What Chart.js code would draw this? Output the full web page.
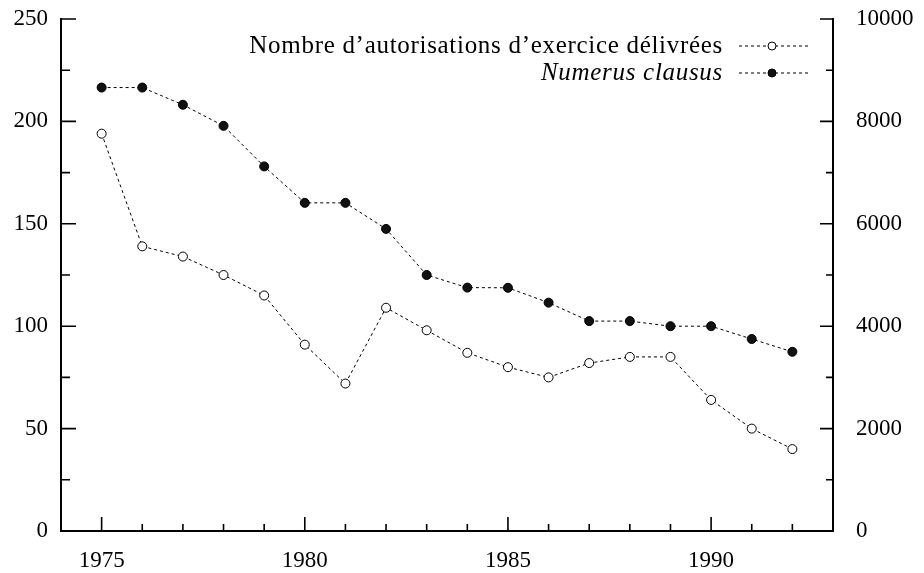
<!DOCTYPE html>
<html>
<head>
<meta charset="utf-8">
<style>
  html, body { margin: 0; padding: 0; background: #fff; }
  #wrap { width: 924px; height: 573px; }
</style>
</head>
<body>
<div id="wrap"><canvas id="chart"></canvas></div>
<script src="https://cdn.jsdelivr.net/npm/chart.js"></script>
<script>
  const years = [1975, 1976, 1977, 1978, 1979, 1980, 1981, 1982, 1983, 1984, 1985, 1986, 1987, 1988, 1989, 1990, 1991, 1992]
  const autorisations = [194, 139, 134, 125, 115, 91, 72, 109, 98, 87, 80, 75, 82, 85, 85, 64, 50, 40]
  const numerusClausus = [8661, 8661, 8325, 7913, 7121, 6409, 6409, 5900, 5000, 4754, 4750, 4460, 4100, 4100, 4000, 4000, 3750, 3500]
  const xTicks = [1975, 1980, 1985, 1990]
  const leftTicks = [0, 50, 100, 150, 200, 250]
  const rightTicks = [0, 2000, 4000, 6000, 8000, 10000]
  const labels = ['Nombre d\u2019autorisations d\u2019exercice délivrées', 'Numerus clausus']

  Chart.defaults.font.family = '"Liberation Serif", serif'
  Chart.defaults.color = '#000'

  // ticks pointing inward + legend on the right
  const frame = {
    id: 'frame',
    afterDraw(chart) {
      const { ctx, chartArea: a, scales } = chart
      ctx.save()
      ctx.strokeStyle = '#000'
      ctx.lineWidth = 1.6
      ctx.beginPath()
      for (let v = 0; v <= 250; v += 25) {
        const y = scales.y.getPixelForValue(v)
        ctx.moveTo(a.left, y); ctx.lineTo(a.left + (v % 50 ? 9 : 15), y)
      }
      for (let v = 0; v <= 10000; v += 1000) {
        const y = scales.y1.getPixelForValue(v)
        ctx.moveTo(a.right, y); ctx.lineTo(a.right - (v % 2000 ? 7 : 13), y)
      }
      for (let v = 1975; v <= 1992; v++) {
        const x = scales.x.getPixelForValue(v)
        ctx.moveTo(x, a.bottom); ctx.lineTo(x, a.bottom - (v % 5 ? 7 : 14))
      }
      ctx.stroke()

      // legend
      const rows = [46, 73]
      chart.data.datasets.forEach((ds, i) => {
        const y = rows[i]
        ctx.font = (i === 1 ? 'italic ' : '') + '25px "Liberation Serif", serif'
        ctx.letterSpacing = '0.7px'
        ctx.fillStyle = '#000'
        ctx.textAlign = 'right'
        ctx.textBaseline = 'middle'
        ctx.fillText(labels[i], 723, y)
        ctx.letterSpacing = '0px'
        ctx.lineWidth = 1
        ctx.setLineDash([3, 3])
        ctx.beginPath(); ctx.moveTo(739, y); ctx.lineTo(808, y); ctx.stroke()
        ctx.setLineDash([])
        ctx.beginPath(); ctx.arc(772, y, 4, 0, Math.PI * 2)
        ctx.fillStyle = ds.pointBackgroundColor
        ctx.fill(); ctx.stroke()
      })
      ctx.restore()
    }
  }

  const fitSide = w => s => { s.width = w; s.paddingTop = 0; s.paddingBottom = 0 }

  new Chart(document.getElementById('chart'), {
    type: 'line',
    data: {
      datasets: [{
        label: labels[0],
        data: years.map((x, i) => ({ x, y: autorisations[i] })),
        yAxisID: 'y',
        borderColor: '#000',
        borderWidth: 1,
        borderDash: [3, 3],
        pointRadius: 4.5,
        pointBorderWidth: 1,
        pointBackgroundColor: '#fff',
        pointBorderColor: '#000',
        tension: 0
      }, {
        label: labels[1],
        data: years.map((x, i) => ({ x, y: numerusClausus[i] })),
        yAxisID: 'y1',
        borderColor: '#000',
        borderWidth: 1,
        borderDash: [3, 3],
        pointRadius: 4.5,
        pointBorderWidth: 1,
        pointBackgroundColor: '#111',
        pointBorderColor: '#000',
        tension: 0
      }]
    },
    options: {
      responsive: true,
      maintainAspectRatio: false,
      animation: false,
      layout: { padding: { top: 19, left: 0, right: 0, bottom: 0 } },
      plugins: {
        legend: { display: false },
        tooltip: { enabled: false }
      },
      scales: {
        x: {
          type: 'linear',
          min: 1974,
          max: 1993,
          grid: { display: false, drawTicks: false },
          border: { display: true, color: '#000', width: 2 },
          afterBuildTicks: s => { s.ticks = xTicks.map(value => ({ value })) },
          afterFit: s => { s.height = 42; s.paddingLeft = 0; s.paddingRight = 0 },
          ticks: { font: { size: 23 }, padding: 16, maxRotation: 0, autoSkip: false, callback: v => String(v) }
        },
        y: {
          position: 'left',
          min: 0,
          max: 250,
          grid: { display: false, drawTicks: false },
          border: { display: true, color: '#000', width: 2 },
          afterBuildTicks: s => { s.ticks = leftTicks.map(value => ({ value })) },
          afterFit: fitSide(61),
          ticks: { font: { size: 23 }, padding: 13, callback: v => String(v) }
        },
        y1: {
          position: 'right',
          min: 0,
          max: 10000,
          grid: { display: false, drawTicks: false },
          border: { display: true, color: '#000', width: 2 },
          afterBuildTicks: s => { s.ticks = rightTicks.map(value => ({ value })) },
          afterFit: fitSide(91),
          ticks: { font: { size: 23 }, padding: 23, callback: v => String(v) }
        }
      }
    },
    plugins: [frame]
  });
</script>
</body>
</html>
